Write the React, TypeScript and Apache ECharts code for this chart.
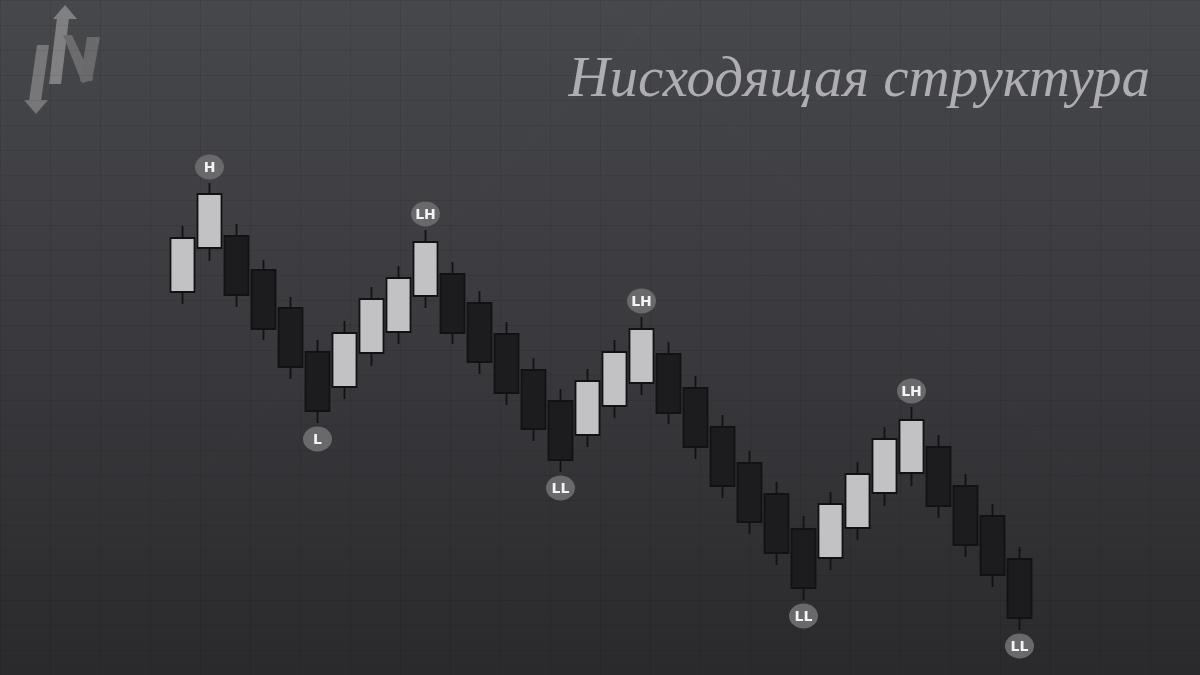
import { useEffect, useRef } from 'react';
import * as echarts from 'echarts';

// свечи нисходящей структуры (цена в условных единицах)
const candleIds = [
  '1', '2', '3', '4', '5', '6', '7', '8', '9', '10', '11', '12', '13', '14', '15', '16',
  '17', '18', '19', '20', '21', '22', '23', '24', '25', '26', '27', '28', '29', '30', '31', '32',
];
const opens = [
  383, 427, 439, 405, 367, 323, 288, 322, 343, 379, 401, 372, 341, 305, 274, 240,
  269, 292, 321, 287, 248, 212, 181, 146, 117, 147, 182, 202, 228, 189, 159, 116,
];
const closes = [
  437, 481, 380, 346, 308, 264, 342, 376, 397, 433, 342, 313, 282, 246, 215, 294,
  323, 346, 262, 228, 189, 153, 122, 87, 171, 201, 236, 255, 169, 130, 100, 57,
];
const lows = [
  371, 414, 368, 335, 296, 252, 276, 309, 331, 367, 331, 301, 270, 234, 203, 228,
  257, 280, 251, 216, 177, 141, 110, 75, 105, 135, 169, 189, 157, 118, 88, 45,
];
const highs = [
  449, 492, 451, 415, 378, 335, 354, 388, 409, 445, 413, 384, 353, 317, 286, 306,
  335, 358, 333, 299, 260, 224, 193, 159, 183, 213, 248, 268, 240, 201, 171, 128,
];

// экстремумы
const pivotIndex = [1, 5, 9, 14, 17, 23, 27, 31];
const pivotText = ['H', 'L', 'LH', 'LL', 'LH', 'LL', 'LH', 'LL'];

const titleText = 'Нисходящая структура';

const BADGE = 'path://M-1,0a1,1 0 1,0 2,0a1,1 0 1,0 -2,0z';

function App() {
  const chartRef = useRef<HTMLDivElement>(null);

  useEffect(() => {
    if (!chartRef.current) return;
    const chart = echarts.init(chartRef.current, null, { renderer: 'svg' });

    const candleData = candleIds.map((_, i) => [opens[i], closes[i], lows[i], highs[i]]);
    const pivotData = pivotIndex.map((idx, k) => {
      const isHigh = pivotText[k].endsWith('H');
      return {
        value: [idx, isHigh ? highs[idx] + 16 : lows[idx] - 16],
        name: pivotText[k],
      };
    });

    const option = {
      animation: false,
      grid: [
        { left: 169, right: 167, top: 0, bottom: 0 },
        { left: 0, right: 0, top: 0, bottom: 0 },
      ],
      xAxis: [
        {
          type: 'category',
          data: candleIds,
          gridIndex: 0,
          show: false,
        },
        {
          type: 'value',
          gridIndex: 1,
          min: 0,
          max: 1200,
          interval: 50,
          axisLine: { show: false },
          axisTick: { show: false },
          axisLabel: { show: false },
          splitLine: { lineStyle: { color: 'rgba(0,0,0,0.08)', width: 1 } },
        },
      ],
      yAxis: [
        {
          type: 'value',
          gridIndex: 0,
          min: 0,
          max: 675,
          show: false,
        },
        {
          type: 'value',
          gridIndex: 1,
          min: 0,
          max: 675,
          interval: 25,
          axisLine: { show: false },
          axisTick: { show: false },
          axisLabel: { show: false },
          splitLine: { lineStyle: { color: 'rgba(0,0,0,0.07)', width: 1 } },
        },
      ],
      graphic: [
        {
          type: 'rect',
          z: -10,
          silent: true,
          shape: { x: 0, y: 0, width: 1200, height: 675 },
          style: {
            fill: new echarts.graphic.LinearGradient(0, 0, 0, 1, [
              { offset: 0, color: '#47484c' },
              { offset: 0.5, color: '#3a3a3e' },
              { offset: 1, color: '#2a2a2d' },
            ]),
          },
        },
        // едва заметные диагонали фона
        {
          type: 'line',
          z: -5,
          silent: true,
          shape: { x1: 150, y1: 520, x2: 670, y2: 0 },
          style: { stroke: 'rgba(255,255,255,0.025)', lineWidth: 1 },
        },
        {
          type: 'line',
          z: -5,
          silent: true,
          shape: { x1: 605, y1: 0, x2: 1110, y2: 505 },
          style: { stroke: 'rgba(255,255,255,0.025)', lineWidth: 1 },
        },
        // логотип
        {
          type: 'group',
          z: 5,
          silent: true,
          children: [
            {
              type: 'polygon',
              shape: { points: [[37, 45], [49, 45], [41, 101], [29, 101]] },
              style: { fill: '#77777a' },
            },
            {
              type: 'polygon',
              shape: { points: [[24, 100], [48, 100], [36, 114]] },
              style: { fill: '#77777a' },
            },
            {
              type: 'polygon',
              shape: { points: [[57, 18], [69, 18], [61, 84], [49, 84]] },
              style: { fill: '#808083' },
            },
            {
              type: 'polygon',
              shape: { points: [[53, 19], [77, 19], [65, 5]] },
              style: { fill: '#808083' },
            },
            {
              type: 'polygon',
              shape: { points: [[63, 35], [72, 35], [93, 80], [82, 83]] },
              style: { fill: '#6c6c6f' },
            },
            {
              type: 'polygon',
              shape: { points: [[87, 37], [100, 37], [92, 81], [80, 81]] },
              style: { fill: '#6a6a6d' },
            },
          ],
        },
        {
          type: 'text',
          z: 5,
          silent: true,
          x: 1150,
          y: 76,
          style: {
            text: titleText,
            fill: '#aeaeb2',
            font: 'italic 57px "Liberation Serif", serif',
            textAlign: 'right',
            textVerticalAlign: 'middle',
          },
        },
      ],
      series: [
        {
          type: 'candlestick',
          xAxisIndex: 0,
          yAxisIndex: 0,
          barWidth: 24,
          z: 3,
          data: candleData,
          itemStyle: {
            color: '#c2c2c4',
            color0: '#1c1c1f',
            borderColor: '#121214',
            borderColor0: '#121214',
            borderWidth: 1.8,
          },
        },
        {
          type: 'scatter',
          xAxisIndex: 0,
          yAxisIndex: 0,
          z: 4,
          symbol: BADGE,
          symbolSize: [29, 25],
          data: pivotData,
          itemStyle: { color: '#69696b', opacity: 1 },
          label: {
            show: true,
            position: 'inside',
            formatter: '{b}',
            color: '#f4f4f4',
            fontSize: 14,
            fontWeight: 'bold',
            fontFamily: '"DejaVu Sans", sans-serif',
          },
        },
      ],
    };

    chart.setOption(option);
    return () => {
      chart.dispose();
    };
  }, []);

  return (
    <div
      ref={chartRef}
      style={{ position: 'fixed', left: 0, top: 0, width: 1200, height: 675 }}
    />
  );
}

export default App;
